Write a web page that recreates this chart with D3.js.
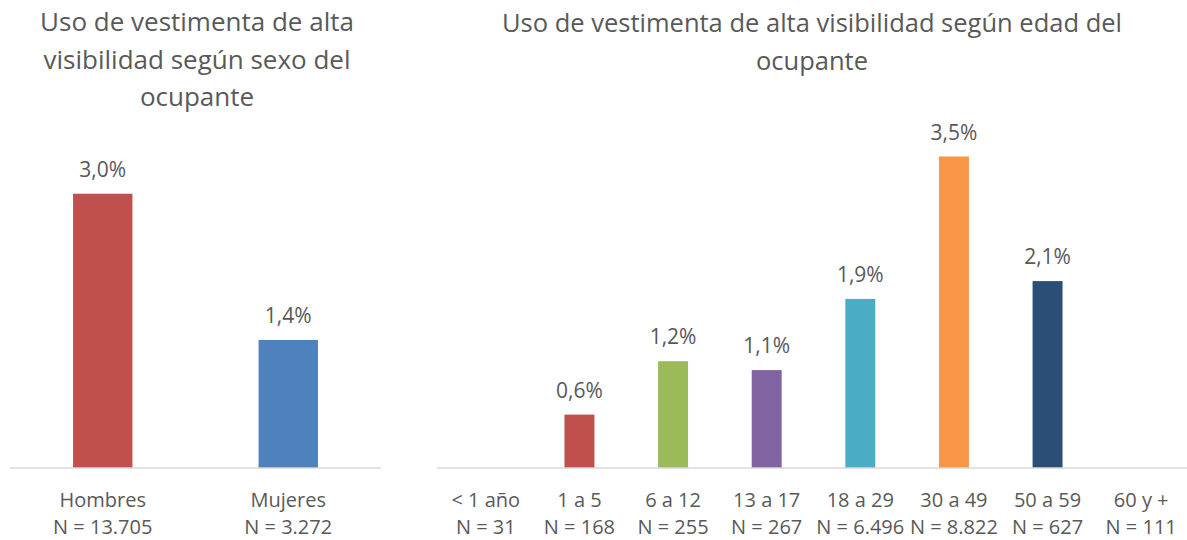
<!DOCTYPE html>
<html>
<head>
<meta charset="utf-8">
<script src="https://cdn.jsdelivr.net/npm/d3@7"></script>
<style>
  body { margin: 0; background: #fff; }
  text { font-family: "Open Sans", sans-serif; fill: #595959; }
</style>
</head>
<body>
<div class="chart"></div>
<script>
// data
const sexCats = ["Hombres", "Mujeres"];
const sexN = ["N = 13.705", "N = 3.272"];
const sexVals = [3.0, 1.4];
const sexColors = ["#c0504d", "#4f81bd"];

const ageCats = ["< 1 año", "1 a 5", "6 a 12", "13 a 17", "18 a 29", "30 a 49", "50 a 59", "60 y +"];
const ageN = ["N = 31", "N = 168", "N = 255", "N = 267", "N = 6.496", "N = 8.822", "N = 627", "N = 111"];
const ageVals = [null, 0.6, 1.2, 1.1, 1.9, 3.5, 2.1, null];
const ageColors = ["#c0504d", "#c0504d", "#9bbb59", "#8064a2", "#4bacc6", "#f79646", "#2c4d75", "#4f81bd"];

const sexTitle = ["Uso de vestimenta de alta", "visibilidad según sexo del", "ocupante"];
const ageTitle = ["Uso de vestimenta de alta visibilidad según edad del", "ocupante"];

const width = 1187, height = 540;
const baseY = 468;

const svg = d3.select(".chart").append("svg")
    .attr("width", width)
    .attr("height", height);

const fmt = v => v.toFixed(1).replace(".", ",") + "%";

function drawPanel(opts) {
  const g = svg.append("g");

  const x = d3.scaleBand()
    .domain(opts.cats)
    .range(opts.xRange)
    .paddingInner(0.68)
    .paddingOuter(0.34);

  const y = d3.scaleLinear()
    .domain([0, opts.yMax])
    .range([baseY, opts.yTop]);

  const data = opts.cats.map((c, i) => ({cat: c, n: opts.n[i], v: opts.vals[i], color: opts.colors[i]}));

  // title
  g.append("text")
    .attr("text-anchor", "middle")
    .style("font-size", opts.titleSize + "px")
    .selectAll("tspan")
    .data(opts.title)
    .join("tspan")
      .attr("x", opts.titleX)
      .attr("y", (d, i) => opts.titleY + i * 37.5)
      .text(d => d);

  // bars
  g.selectAll("rect")
    .data(data.filter(d => d.v != null))
    .join("rect")
      .attr("x", d => x(d.cat))
      .attr("width", x.bandwidth())
      .attr("y", d => y(d.v))
      .attr("height", d => y(0) - y(d.v))
      .attr("fill", d => d.color);

  // value labels
  g.selectAll(".val")
    .data(data.filter(d => d.v != null))
    .join("text")
      .attr("class", "val")
      .attr("text-anchor", "middle")
      .attr("x", d => x(d.cat) + x.bandwidth() / 2)
      .attr("y", d => y(d.v) - 17)
      .style("font-size", "21px")
      .text(d => fmt(d.v));

  // axis
  const axis = g.append("g")
    .attr("transform", "translate(0," + baseY + ")")
    .call(d3.axisBottom(x).tickSize(0).tickFormat(""));
  axis.select(".domain").attr("stroke", "#d9d9d9").attr("stroke-width", 1.5)
    .attr("d", "M" + opts.lineRange[0] + ",0H" + opts.lineRange[1]);

  const lab = g.selectAll(".cat")
    .data(data)
    .join("text")
      .attr("class", "cat")
      .attr("text-anchor", "middle")
      .style("font-size", "20px");
  lab.append("tspan")
    .attr("x", d => x(d.cat) + x.bandwidth() / 2)
    .attr("y", baseY + 39)
    .text(d => d.cat);
  lab.append("tspan")
    .attr("x", d => x(d.cat) + x.bandwidth() / 2)
    .attr("y", baseY + 66)
    .text(d => d.n);
}

drawPanel({
  cats: sexCats, n: sexN, vals: sexVals, colors: sexColors,
  xRange: [10, 381], lineRange: [10, 381], yMax: 3.5, yTop: 148,
  title: sexTitle, titleX: 197, titleY: 31, titleSize: 26
});

drawPanel({
  cats: ageCats, n: ageN, vals: ageVals, colors: ageColors,
  xRange: [439, 1188], lineRange: [437, 1187], yMax: 4, yTop: 112,
  title: ageTitle, titleX: 812, titleY: 32, titleSize: 25.5
});
</script>
</body>
</html>
